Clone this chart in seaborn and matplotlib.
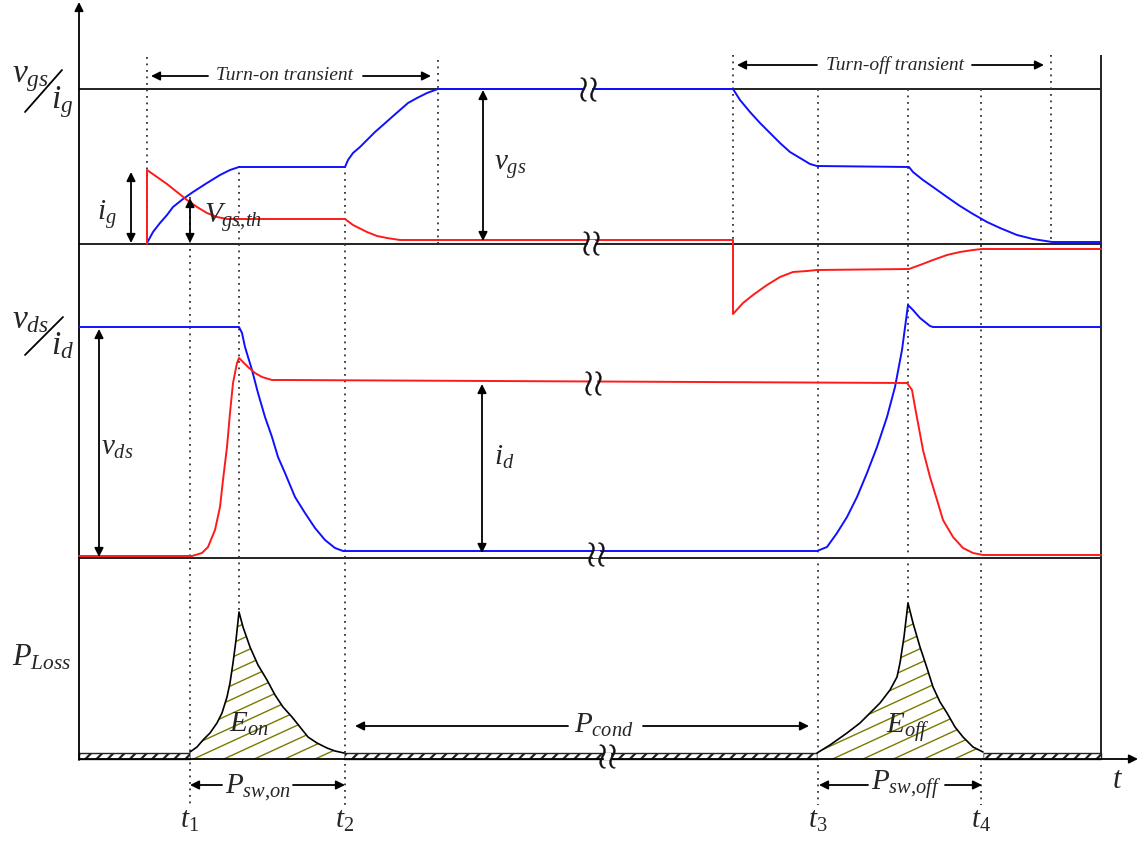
import numpy as np
import seaborn as sns
import matplotlib.pyplot as plt

sns.set_style("white")
plt.rcParams['font.family'] = ['Liberation Serif', 'DejaVu Serif']
plt.rcParams['mathtext.fontset'] = 'custom'
plt.rcParams['mathtext.rm'] = 'Liberation Serif'
plt.rcParams['mathtext.it'] = 'Liberation Serif:italic'
plt.rcParams['hatch.linewidth'] = 1.6

BLUE = '#1010ff'
RED = '#ff1a1a'
OLIVE = '#7a7a00'

# values, in picture units (x to the right, y downward)
# gate voltage / gate current
vgs_t = [147, 153, 160, 167, 173, 183, 193, 207, 220, 230, 239,
         345, 348, 353, 360, 367, 375, 383, 392, 400, 408, 417, 427, 438,
         733, 740, 750, 760, 770, 780, 790, 800, 810, 817,
         909, 913, 923, 933, 947, 960, 973, 987, 1000, 1017, 1033, 1052, 1101]
vgs_v = [243, 232, 223, 215, 207, 199, 192, 183, 175, 170, 167,
         167, 160, 153, 147, 140, 132, 125, 117, 110, 103, 98, 93, 89,
         89, 100, 112, 123, 133, 143, 152, 158, 164, 166,
         167, 172, 180, 187, 197, 206, 214, 222, 228, 235, 239, 242, 242]
ig_t = [147, 147, 157, 167, 177, 187, 197, 207, 217, 227, 239,
        345, 353, 367, 377, 387, 400, 420,
        733, 733, 743, 753, 767, 780, 793, 807, 817,
        909, 920, 933, 947, 960, 973, 982, 1101]
ig_v = [244, 170, 177, 184, 192, 200, 207, 213, 217, 219, 219,
        219, 225, 232, 236, 238, 240, 240,
        240, 314, 303, 295, 285, 277, 272, 271, 270,
        269, 265, 260, 255, 252, 250, 249, 249]

# drain voltage / drain current
vds_t = [79, 239, 242, 245, 252, 258, 265, 272, 278, 285, 295, 305, 315,
         325, 335, 343,
         817, 827, 837, 847, 857, 867, 877, 887, 895, 902, 908,
         913, 920, 930, 933, 1101]
vds_v = [327, 327, 333, 347, 370, 393, 417, 437, 457, 473, 497, 513, 528,
         540, 548, 551,
         551, 547, 533, 517, 497, 473, 447, 417, 387, 350, 305,
         310, 318, 326, 327, 327]
id_t = [79, 192, 202, 208, 215, 220, 223, 227, 230, 233, 237, 239, 243,
        248, 255, 262, 272, 285,
        907, 912, 915, 918, 923, 930, 937, 943, 953, 963, 973, 983, 1101]
id_v = [556, 556, 553, 547, 530, 507, 480, 447, 413, 383, 363, 358, 362,
        367, 373, 377, 380, 380,
        383, 390, 407, 423, 450, 477, 500, 520, 537, 548, 553, 555, 555]

# switching loss pulses
eon_t = [190, 197, 203, 210, 217, 222, 227, 230, 233, 236, 239,
         243, 250, 258, 267, 275, 283, 292, 300, 308, 317, 327, 335, 344]
eon_v = [752, 747, 740, 733, 723, 713, 697, 683, 663, 640, 612,
         627, 647, 665, 680, 695, 707, 717, 727, 737, 743, 748, 751, 753]
eoff_t = [817, 830, 847, 860, 870, 880, 890, 897, 900, 904, 908,
          913, 920, 927, 933, 940, 947, 955, 963, 973, 983]
eoff_v = [753, 745, 733, 723, 713, 703, 690, 677, 663, 637, 603,
          623, 647, 668, 687, 702, 713, 727, 737, 747, 752]
cond_spans = [(79, 190), (344, 817), (983, 1101)]

# instants (dotted markers)
mark_t = [147, 190, 239, 345, 438, 733, 818, 908, 981, 1051]
mark_top = [57, 197, 166, 166, 60, 55, 89, 89, 89, 55]
mark_bot = [244, 805, 612, 805, 244, 244, 805, 603, 805, 244]
time_labels = ['$t_1$', '$t_2$', '$t_3$', '$t_4$']
time_label_t = [190, 345, 818, 981]

levels = [89, 244, 558]
break_t = [588, 591, 593, 596, 607]
break_y = [89, 243, 383, 554, 756]

fig = plt.figure(figsize=(11.42, 8.43), dpi=100)
ax = fig.add_axes([0, 0, 1, 1])
ax.set_xlim(0, 1142)
ax.set_ylim(843, 0)
ax.axis('off')


def arrow(x0, y0, x1, y1, style='-|>'):
    ax.annotate('', xy=(x1, y1), xytext=(x0, y0),
                arrowprops=dict(arrowstyle=style, color='black', lw=1.3,
                                mutation_scale=13, shrinkA=0, shrinkB=0))


# frame
ax.hlines(levels, 79, 1101, colors='#222222', lw=1.4, zorder=1)
ax.vlines(1101, 55, 759, colors='#222222', lw=1.4)
arrow(79, 760, 79, 2)
arrow(79, 759, 1138, 759)
ax.vlines(mark_t, mark_top, mark_bot, colors='#333333', lw=1.3,
          linestyles=[(0, (1, 2.6))], zorder=1)

# waveforms
for t, v, c in [(vgs_t, vgs_v, BLUE), (ig_t, ig_v, RED),
                (vds_t, vds_v, BLUE), (id_t, id_v, RED)]:
    sns.lineplot(x=t, y=v, ax=ax, color=c, lw=1.4, sort=False,
                 estimator=None, zorder=3)

# loss
for a, b in cond_spans:
    ax.fill_between([a, b], 753, 759, facecolor='white', edgecolor='#222222',
                    hatch='///', lw=1.0, zorder=2)
for t, v in [(eon_t, eon_v), (eoff_t, eoff_v)]:
    poly = ax.fill_between(t, v, 759, facecolor='white', lw=0, zorder=2)
    clip = poly.get_paths()[0]
    # shallow olive hatch, clipped to the pulse area
    for c in np.arange(680, 1240, 14):
        ln = ax.axline((0, c), slope=-0.46, color=OLIVE, lw=1.0, zorder=2)
        ln.set_clip_path(clip, ax.transData)
    sns.lineplot(x=t, y=v, ax=ax, color='black', lw=1.2, sort=False,
                 estimator=None, zorder=3)

# axis-break squiggles
ax.plot(break_t, break_y, ls='none', marker='s', ms=5, mfc='white',
        mec='white', zorder=4)
ax.plot(break_t, break_y, ls='none', marker=r'${\wr}{\wr}$', ms=17,
        mfc='#111111', mec='#111111', mew=0.3, zorder=5)

# axis labels
big = 24
ax.text(12, 82, r'$v_{gs}$', fontsize=big)
ax.plot([25, 62], [112, 70], color='black', lw=1.3)
ax.text(51, 108, r'$i_g$', fontsize=big)
ax.text(12, 328, r'$v_{ds}$', fontsize=big)
ax.plot([25, 63], [355, 317], color='black', lw=1.3)
ax.text(51, 354, r'$i_d$', fontsize=big)
ax.text(12, 665, r'$P_{Loss}$', fontsize=22)
ax.text(1112, 788, r'$t$', fontsize=22)
for lab, x in zip(time_labels, time_label_t):
    ax.text(x, 828, lab, fontsize=21, ha='center')

# transient annotations
ax.text(284, 75, 'Turn-on transient', fontsize=14, style='italic',
        ha='center', va='center')
arrow(208, 76, 151, 76)
arrow(363, 76, 431, 76)
ax.text(895, 65, 'Turn-off transient', fontsize=14, style='italic',
        ha='center', va='center')
arrow(817, 65, 737, 65)
arrow(972, 65, 1044, 65)

# magnitude arrows
arrow(131, 172, 131, 243, '<|-|>')
ax.text(97, 220, r'$i_g$', fontsize=21)
arrow(190, 198, 190, 243, '<|-|>')
ax.text(204, 223, r'$V_{gs{,}th}$', fontsize=21)
arrow(483, 90, 483, 241, '<|-|>')
ax.text(494, 170, r'$v_{gs}$', fontsize=21)
arrow(99, 329, 99, 557, '<|-|>')
ax.text(101, 455, r'$v_{ds}$', fontsize=21)
arrow(482, 384, 482, 553, '<|-|>')
ax.text(494, 465, r'$i_d$', fontsize=21)

# loss annotations
ax.text(229, 732, r'$E_{on}$', fontsize=21)
ax.text(886, 733, r'$E_{off}$', fontsize=21)
ax.text(574, 733, r'$P_{cond}$', fontsize=21)
arrow(568, 726, 355, 726)
arrow(643, 726, 809, 726)
ax.text(225, 793, r'$P_{sw{,}on}$', fontsize=21)
arrow(222, 785, 190, 785)
arrow(293, 785, 345, 785)
ax.text(871, 790, r'$P_{sw{,}off}$', fontsize=21)
arrow(868, 785, 819, 785)
arrow(945, 785, 982, 785)

fig.savefig('out.png', dpi=100)
